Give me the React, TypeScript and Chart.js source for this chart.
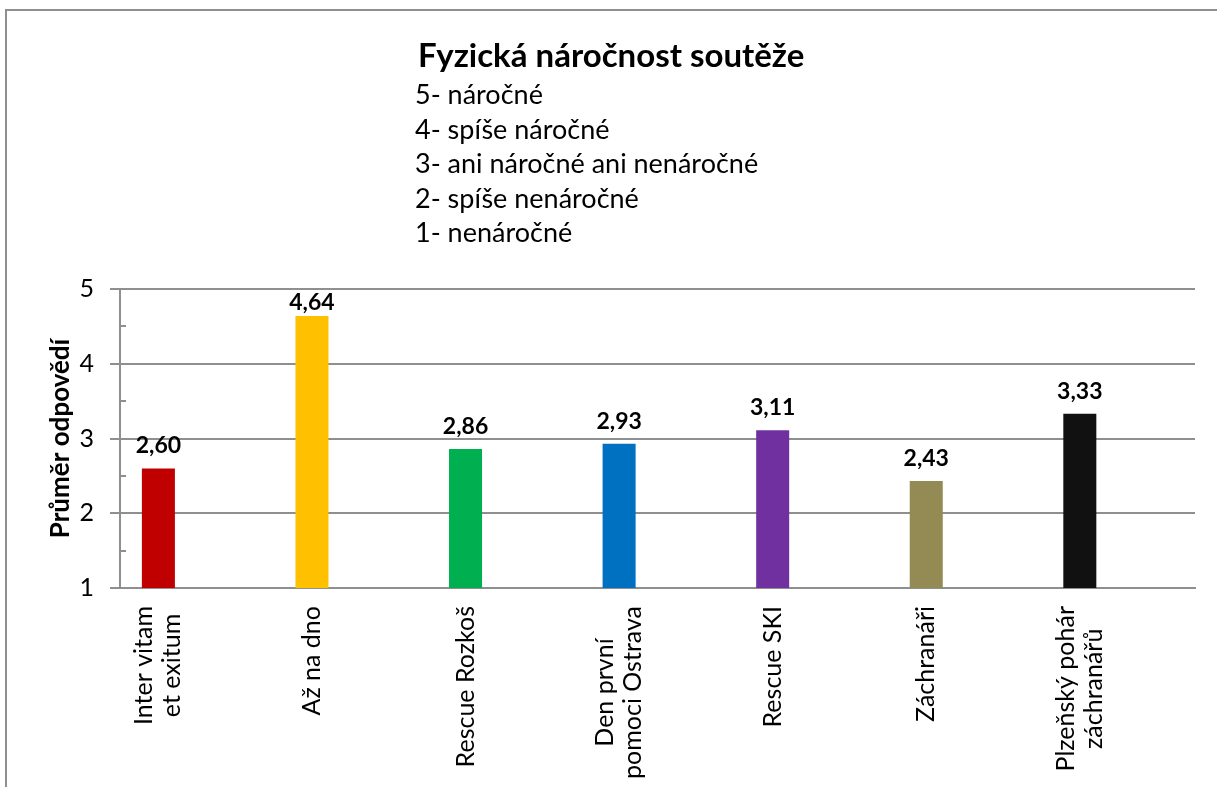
import React, { useEffect, useRef } from 'react';
import { Chart, registerables } from 'chart.js';

Chart.register(...registerables);

const FONT = 'Lato, "Open Sans", sans-serif';

const chartTitle = 'Fyzická náročnost soutěže';
const scaleLegend = [
  '5- náročné',
  '4- spíše náročné',
  '3- ani náročné ani nenáročné',
  '2- spíše nenáročné',
  '1- nenáročné',
];
const categories = [
  ['Inter vitam', 'et exitum'],
  ['Až na dno'],
  ['Rescue Rozkoš'],
  ['Den první', 'pomoci Ostrava'],
  ['Rescue SKI'],
  ['Záchranáři'],
  ['Plzeňský pohár', 'záchranářů'],
];
const values = [2.6, 4.64, 2.86, 2.93, 3.11, 2.43, 3.33];
const spacerValues = [null, null, null, null, null, null, null];
const barColors = ['#C00000', '#FFC000', '#00B050', '#0070C0', '#7030A0', '#948A54', '#111111'];
const yMin = 1;
const yMax = 5;
const yStep = 1;
const yMinorTicks = [1.5, 2.5, 3.5, 4.5];
const yAxisTitle = 'Průměr odpovědí';

const GRID = '#8f8f8f';

const titleBlockPlugin = {
  id: 'titleBlock',
  afterDraw(chart: any) {
    const ctx = chart.ctx;
    ctx.save();
    ctx.fillStyle = '#000';
    ctx.textAlign = 'left';
    ctx.textBaseline = 'alphabetic';
    ctx.font = `bold 33px ${FONT}`;
    ctx.fillText(chartTitle, 418, 67);
    ctx.font = `27px ${FONT}`;
    scaleLegend.forEach((line, i) => {
      ctx.fillText(line, 415, 104 + i * 34.6);
    });
    ctx.restore();
  },
};

const minorTickPlugin = {
  id: 'minorTicks',
  afterDraw(chart: any) {
    const ctx = chart.ctx;
    const y = chart.scales.y;
    const left = chart.chartArea.left;
    ctx.save();
    ctx.strokeStyle = GRID;
    ctx.lineWidth = 2;
    yMinorTicks.forEach((v) => {
      const py = Math.round(y.getPixelForValue(v));
      ctx.beginPath();
      ctx.moveTo(left, py);
      ctx.lineTo(left + 6, py);
      ctx.stroke();
    });
    ctx.restore();
  },
};

const categoryLabelPlugin = {
  id: 'categoryLabels',
  afterDraw(chart: any) {
    const ctx = chart.ctx;
    const meta = chart.getDatasetMeta(0);
    const top = chart.chartArea.bottom + 18;
    const lineGap = 28;
    ctx.save();
    ctx.fillStyle = '#000';
    ctx.font = `25px ${FONT}`;
    ctx.textAlign = 'center';
    ctx.textBaseline = 'middle';
    meta.data.forEach((bar: any, i: number) => {
      const lines = categories[i];
      const maxW = Math.max(...lines.map((l) => ctx.measureText(l).width));
      const cy = top + maxW / 2;
      lines.forEach((ln, j) => {
        ctx.save();
        ctx.translate(bar.x + (j - (lines.length - 1) / 2) * lineGap, cy);
        ctx.rotate(-Math.PI / 2);
        ctx.fillText(ln, 0, 0);
        ctx.restore();
      });
    });
    ctx.restore();
  },
};

const valueLabelPlugin = {
  id: 'valueLabels',
  afterDatasetsDraw(chart: any) {
    const ctx = chart.ctx;
    const meta = chart.getDatasetMeta(0);
    const minBaseline = chart.chartArea.top + 21;
    ctx.save();
    ctx.fillStyle = '#000';
    ctx.textAlign = 'center';
    ctx.textBaseline = 'alphabetic';
    ctx.font = `bold 23px ${FONT}`;
    meta.data.forEach((bar: any, i: number) => {
      const txt = values[i].toFixed(2).replace('.', ',');
      ctx.fillText(txt, bar.x, Math.max(bar.y - 15, minBaseline));
    });
    ctx.restore();
  },
};

export default function App() {
  const ref = useRef<HTMLCanvasElement>(null);

  useEffect(() => {
    if (!ref.current) return;
    const chart = new Chart(ref.current, {
      type: 'bar',
      data: {
        labels: categories.map((c) => c.join(' ')),
        datasets: [
          {
            data: values,
            backgroundColor: barColors,
            borderWidth: 0,
            barPercentage: 0.43,
            categoryPercentage: 1.0,
          },
          {
            data: spacerValues as any,
            backgroundColor: 'rgba(0,0,0,0)',
            barPercentage: 0.43,
            categoryPercentage: 1.0,
          },
        ],
      },
      options: {
        responsive: false,
        animation: false,
        devicePixelRatio: 1,
        layout: { padding: { top: 289, right: 22, bottom: 0, left: 0 } },
        plugins: {
          legend: { display: false },
          title: { display: false },
          tooltip: { enabled: false },
        },
        scales: {
          x: {
            type: 'category',
            offset: true,
            grid: { display: false, drawTicks: false },
            border: { display: true, color: GRID, width: 2 },
            ticks: { display: false },
            afterFit: (scale: any) => {
              scale.height = 199;
            },
          },
          y: {
            min: yMin,
            max: yMax,
            ticks: {
              stepSize: yStep,
              color: '#000',
              font: { family: FONT, size: 25 },
              padding: 16,
            },
            grid: { color: GRID, lineWidth: 2, drawTicks: true, tickLength: 10, tickColor: GRID },
            border: { display: true, color: GRID, width: 2 },
            title: {
              display: true,
              text: yAxisTitle,
              color: '#000',
              font: { family: FONT, size: 26, weight: 'bold' },
              padding: { top: 45, bottom: 0 },
            },
            afterFit: (scale: any) => {
              scale.width = 120;
            },
          },
        },
      },
      plugins: [titleBlockPlugin, minorTickPlugin, valueLabelPlugin, categoryLabelPlugin],
    });
    return () => chart.destroy();
  }, []);

  return (
    <div style={{ position: 'fixed', left: 0, top: 0, width: 1217, height: 787, overflow: 'hidden', background: '#fff' }}>
      <div
        style={{
          position: 'absolute',
          left: 5,
          top: 9,
          width: 1400,
          height: 1000,
          borderLeft: `2px solid ${GRID}`,
          borderTop: `2px solid ${GRID}`,
        }}
      />
      <canvas ref={ref} width={1217} height={787} style={{ position: 'absolute', left: 0, top: 0, width: 1217, height: 787 }} />
    </div>
  );
}
